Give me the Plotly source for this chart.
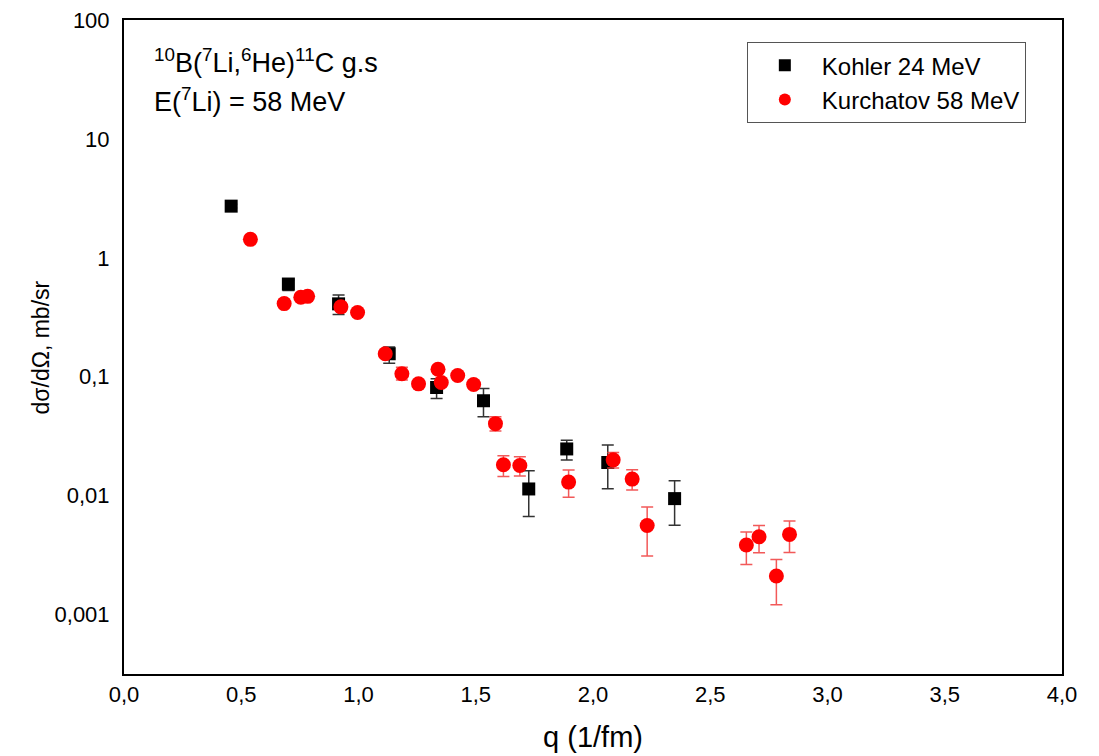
import plotly.graph_objects as go

# Kohler 24 MeV
kohler_q = [0.457, 0.701, 0.915, 1.131, 1.333, 1.533, 1.726, 1.888, 2.063, 2.348]
kohler_sigma = [2.72, 0.602, 0.41, 0.156, 0.0812, 0.0628, 0.01138, 0.0247, 0.0190, 0.00944]
kohler_err_plus = [0.10, 0.05, 0.077, 0.022, 0.015, 0.0168, 0.0048, 0.0045, 0.0076, 0.0039]
kohler_err_minus = [0.10, 0.07, 0.077, 0.026, 0.0155, 0.0167, 0.0047, 0.0048, 0.0076, 0.0038]

# Kurchatov 58 MeV
kurch_q = [0.539, 0.683, 0.754, 0.783, 0.925, 0.996, 1.114, 1.185, 1.256, 1.339, 1.353, 1.423,
           1.491, 1.584, 1.618, 1.688, 1.896, 2.086, 2.167, 2.231, 2.654, 2.708, 2.782, 2.838]
kurch_sigma = [1.43, 0.412, 0.466, 0.474, 0.387, 0.347, 0.156, 0.106, 0.0871, 0.1156, 0.0894, 0.1023,
               0.0861, 0.0403, 0.01817, 0.01794, 0.0130, 0.0200, 0.01378, 0.00561, 0.00384, 0.00451,
               0.00211, 0.00472]
kurch_err_plus = [0.05, 0.02, 0.02, 0.02, 0.03, 0.02, 0.01, 0.014, 0.005, 0.008, 0.006, 0.006,
                  0.006, 0.0058, 0.0035, 0.0033, 0.0034, 0.0031, 0.0027, 0.0024, 0.0011, 0.0011,
                  0.0008, 0.0014]
kurch_err_minus = [0.05, 0.02, 0.02, 0.02, 0.03, 0.02, 0.01, 0.012, 0.005, 0.008, 0.006, 0.006,
                   0.006, 0.0053, 0.0037, 0.0033, 0.0033, 0.0029, 0.0026, 0.0025, 0.0012, 0.0012,
                   0.0009, 0.0014]

y_tickvals = [0.001, 0.01, 0.1, 1, 10, 100]
y_ticktext = ["0,001", "0,01", "0,1", "1", "10", "100"]
x_tickvals = [0.0, 0.5, 1.0, 1.5, 2.0, 2.5, 3.0, 3.5, 4.0]
x_ticktext = ["0,0", "0,5", "1,0", "1,5", "2,0", "2,5", "3,0", "3,5", "4,0"]

font_main = "Liberation Sans, Arial, sans-serif"

fig = go.Figure()
fig.add_trace(go.Scatter(
    x=kohler_q, y=kohler_sigma, mode="markers", name="Kohler 24 MeV",
    marker=dict(symbol="square", size=13, color="black"),
    error_y=dict(type="data", symmetric=False, array=kohler_err_plus,
                 arrayminus=kohler_err_minus, color="#333333", thickness=1.5, width=6),
))
fig.add_trace(go.Scatter(
    x=kurch_q, y=kurch_sigma, mode="markers", name="Kurchatov 58 MeV",
    marker=dict(symbol="circle", size=15, color="red"),
    error_y=dict(type="data", symmetric=False, array=kurch_err_plus,
                 arrayminus=kurch_err_minus, color="rgba(240,60,60,0.85)", thickness=1.5, width=6),
))

fig.update_layout(
    width=1099, height=756,
    margin=dict(l=116, r=45, t=12, b=90, autoexpand=False),
    paper_bgcolor="white", plot_bgcolor="white",
    font=dict(family=font_main, size=22, color="black"),
    showlegend=True,
    legend=dict(x=0.664, y=0.966, xanchor="left", yanchor="top",
                bgcolor="white", bordercolor="#555555", borderwidth=1,
                font=dict(family=font_main, size=24, color="black"),
                itemwidth=64, itemsizing="constant", tracegroupgap=0),
    xaxis=dict(range=[0, 4], tickvals=x_tickvals, ticktext=x_ticktext,
               showgrid=False, zeroline=False, showline=True, linecolor="black",
               linewidth=2, mirror=True, ticks="", ticklabelstandoff=0,
               automargin=False,
               tickfont=dict(family=font_main, size=22),
               title=dict(text="q (1/fm)", font=dict(family=font_main, size=29), standoff=20)),
    yaxis=dict(type="log", range=[-3.5, 2], tickvals=y_tickvals, ticktext=y_ticktext,
               showgrid=False, zeroline=False, showline=True, linecolor="black",
               linewidth=2, mirror=True, ticks="", ticklabelstandoff=8,
               ticklabeloverflow="allow", automargin=False,
               tickfont=dict(family=font_main, size=22)),
)

# y-axis title
fig.add_annotation(x=-0.088, y=0.5, xref="paper", yref="paper", xanchor="center", yanchor="middle",
                   showarrow=False, textangle=-90, text="dσ/dΩ, mb/sr",
                   font=dict(family=font_main, size=23, color="black"))

fig.add_annotation(x=0.030, y=0.938, xref="paper", yref="paper", xanchor="left", yanchor="middle",
                   showarrow=False, align="left",
                   text="<sup>10</sup>B(<sup>7</sup>Li,<sup>6</sup>He)<sup>11</sup>C g.s",
                   font=dict(family=font_main, size=27, color="black"))
fig.add_annotation(x=0.030, y=0.878, xref="paper", yref="paper", xanchor="left", yanchor="middle",
                   showarrow=False, align="left",
                   text="E(<sup>7</sup>Li) = 58 MeV",
                   font=dict(family=font_main, size=27, color="black"))

fig.write_html("out.html")
